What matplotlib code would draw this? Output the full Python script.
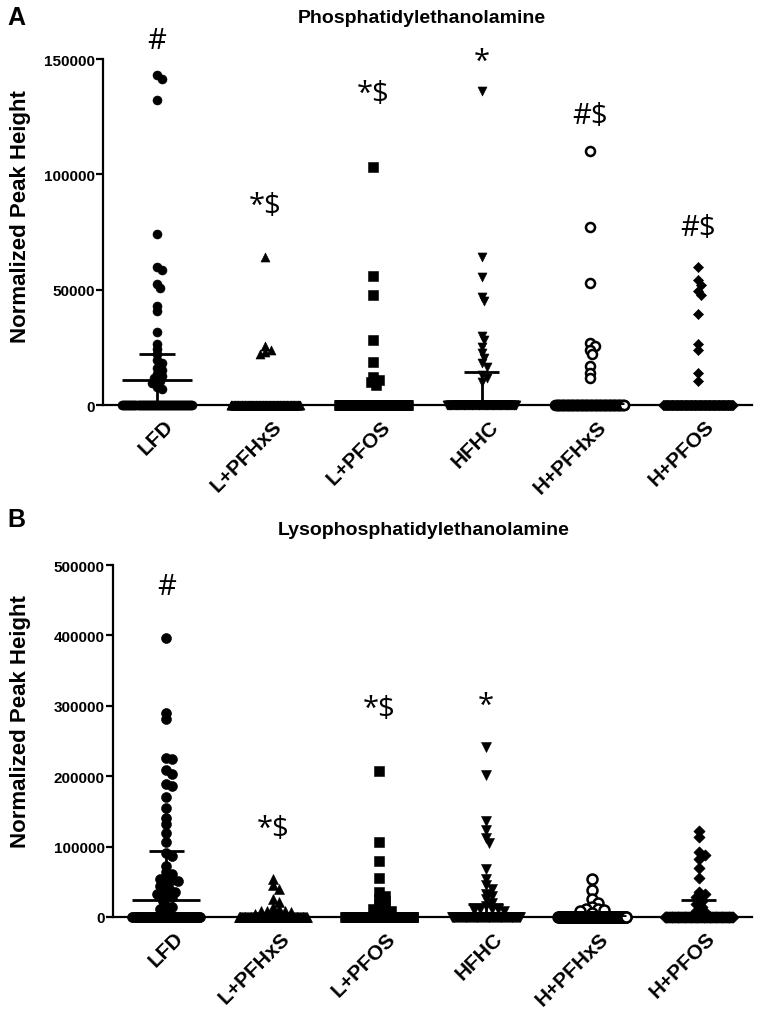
import matplotlib.pyplot as plt
import matplotlib.transforms as mtransforms
import numpy as np

plt.rcParams['font.family'] = 'Liberation Sans'
plt.rcParams['font.weight'] = 'bold'

groups = ['LFD', 'L+PFHxS', 'L+PFOS', 'HFHC', 'H+PFHxS', 'H+PFOS']
n_per_group = 95

# panel A - phosphatidylethanolamine, non-zero values per group
pe_lfd = [142900, 141400, 132300, 74300, 59800, 58400, 52600, 50700, 42900, 40600,
          31600, 26500, 24300, 22000, 19500, 18000, 16000, 15000, 13500, 12500,
          11500, 10500, 9500, 8000, 7000]
pe_l_pfhxs = [64000, 25500, 24000, 23000, 22000]
pe_l_pfos = [103000, 56000, 47500, 28000, 18500, 12000, 11000, 10000, 8500]
pe_hfhc = [136000, 64000, 55500, 47000, 45000, 30000, 28000, 25000, 22500, 20500,
           18000, 16500, 13000, 11500, 10000]
pe_h_pfhxs = [110000, 77000, 53000, 27000, 25500, 24000, 22000, 17000, 14000, 11500]
pe_h_pfos = [60000, 54000, 52000, 49500, 47500, 39500, 26500, 24000, 14000, 10500]
pe_mean = [11000, 600, 600, 1000, 600, 600]
pe_err = [11000, 600, 600, 13300, 600, 600]
pe_marks = ['#', '*$', '*$', '*', '#$', '#$']
pe_mark_y = [158000, 86500, 135000, 149000, 125500, 76800]
pe_ticks = [0, 50000, 100000, 150000]

# panel B - lysophosphatidylethanolamine
lpe_lfd = [397000, 290000, 281000, 226000, 225000, 208600, 202500, 188400, 186000,
           170400, 155300, 141200, 131700, 119900, 106700, 91600, 86800, 72700,
           63300, 60900, 55000, 53800, 52000, 51400, 47000, 44300, 40000, 37300,
           35000, 32600, 30000, 27900, 23100, 16000, 13700, 11300, 6700]
lpe_l_pfhxs = [54000, 46000, 40000, 26000, 21000, 14000, 11000, 9000, 9000, 8000,
               7000, 5000, 4000, 3000]
lpe_l_pfos = [207000, 106000, 80000, 56000, 35000, 30000, 26000, 22000, 18000,
              14000, 12000, 9000, 8000]
lpe_hfhc = [242000, 202000, 137000, 123000, 112000, 105000, 68000, 54000, 45000,
            40000, 33000, 30000, 25000, 20000, 16000, 12000, 11000, 11000, 10000, 9000]
lpe_h_pfhxs = [54000, 39000, 26000, 20000, 14000, 11000, 11000, 10000, 8000, 5000]
lpe_h_pfos = [122000, 114000, 92000, 88000, 82000, 70000, 55000, 35000, 32000,
              28000, 23000, 18000, 14000, 8000, 7000]
lpe_mean = [24500, 2000, 2000, 2500, 2000, 3000]
lpe_err = [69500, 2000, 2000, 15900, 2000, 21000]
lpe_marks = ['#', '*$', '*$', '*', '', '']
lpe_mark_y = [470000, 126000, 295500, 300000, 0, 0]
lpe_ticks = [0, 100000, 200000, 300000, 400000, 500000]

markers = ['o', '^', 's', 'v', 'o', 'D']
faces = ['black', 'black', 'black', 'black', 'white', 'black']


def swarm(ax, vals, d_px):
    # simple beeswarm, points may overlap a good deal; offsets in data x-units
    vals = np.asarray(vals, float)
    ypx = ax.transData.transform(np.column_stack([np.zeros(len(vals)), vals]))[:, 1]
    xscale = ax.transData.transform((1, 0))[0] - ax.transData.transform((0, 0))[0]
    steps = [0.0]
    for k in range(1, 30):
        steps += [k * d_px * 0.3, -k * d_px * 0.3]
    placed = []
    offs = np.zeros(len(vals))
    for i in np.argsort(-vals):
        for c in steps:
            if all((c - px) ** 2 + (ypx[i] - py) ** 2 >= (0.55 * d_px) ** 2 for px, py in placed):
                break
        placed.append((c, ypx[i]))
        offs[i] = c / xscale
    return offs


def draw_panel(ax, data, means, errs, marks, mark_y, ticks, ms):
    ax.set_xlim(-0.5, 5.5)
    ax.set_ylim(0, ticks[-1])
    for i, vals in enumerate(data):
        nz = n_per_group - len(vals)
        xs = np.concatenate([i + swarm(ax, vals, ms * 1.39), i + np.linspace(-0.32, 0.32, nz)])
        ys = np.concatenate([vals, np.zeros(nz)])
        lw = 1.8 if faces[i] == 'white' else 0.4
        size = ms if markers[i] != 'D' else ms * 0.8
        ax.scatter(xs, ys, s=size ** 2, marker=markers[i], facecolor=faces[i],
                   edgecolor='black', linewidths=lw, clip_on=False, zorder=3)
        m, e = means[i], errs[i]
        ax.hlines(m, i - 0.32, i + 0.32, color='black', lw=2, zorder=4)
        ax.hlines([m + e, m - e], i - 0.165, i + 0.165, color='black', lw=2, zorder=4)
        ax.vlines(i, m - e, m + e, color='black', lw=2, zorder=4)
        if marks[i]:
            ax.text(i, mark_y[i], marks[i], ha='center', va='center', fontsize=21,
                    family='Open Sans', fontweight='normal', clip_on=False)
    for s in ['top', 'right']:
        ax.spines[s].set_visible(False)
    for s in ['left', 'bottom']:
        ax.spines[s].set_linewidth(1.6)
    ax.set_yticks(ticks)
    ax.set_yticklabels([str(t) for t in ticks])
    ax.tick_params(axis='y', length=5, width=1.6, labelsize=11, pad=1)
    ax.set_xticks(range(len(groups)))
    ax.set_xticklabels(groups, rotation=45, ha='right', va='top', rotation_mode='anchor', fontsize=15)
    ax.tick_params(axis='x', length=0, pad=8)
    shift = mtransforms.ScaledTranslation(0.07, 0, ax.figure.dpi_scale_trans)
    for lab in ax.get_xticklabels():
        lab.set_transform(lab.get_transform() + shift)


fig = plt.figure(figsize=(7.6, 10.12), dpi=100)
ax1 = fig.add_axes([0.1355, 0.5988, 0.854, 0.3419])
ax2 = fig.add_axes([0.1487, 0.0929, 0.8408, 0.3478])

draw_panel(ax1, [pe_lfd, pe_l_pfhxs, pe_l_pfos, pe_hfhc, pe_h_pfhxs, pe_h_pfos],
           pe_mean, pe_err, pe_marks, pe_mark_y, pe_ticks, 6.5)
draw_panel(ax2, [lpe_lfd, lpe_l_pfhxs, lpe_l_pfos, lpe_hfhc, lpe_h_pfhxs, lpe_h_pfos],
           lpe_mean, lpe_err, lpe_marks, lpe_mark_y, lpe_ticks, 7.2)

fig.text(0.555, 0.982, 'Phosphatidylethanolamine', ha='center', va='center', fontsize=14)
fig.text(0.557, 0.476, 'Lysophosphatidylethanolamine', ha='center', va='center', fontsize=14)
fig.text(0.01, 0.982, 'A', ha='left', va='center', fontsize=18)
fig.text(0.01, 0.486, 'B', ha='left', va='center', fontsize=18)
fig.text(0.027, 0.7856, 'Normalized Peak Height', rotation=90, ha='center', va='center', fontsize=16)
fig.text(0.027, 0.2866, 'Normalized Peak Height', rotation=90, ha='center', va='center', fontsize=16)

fig.savefig('out.png', dpi=100)
